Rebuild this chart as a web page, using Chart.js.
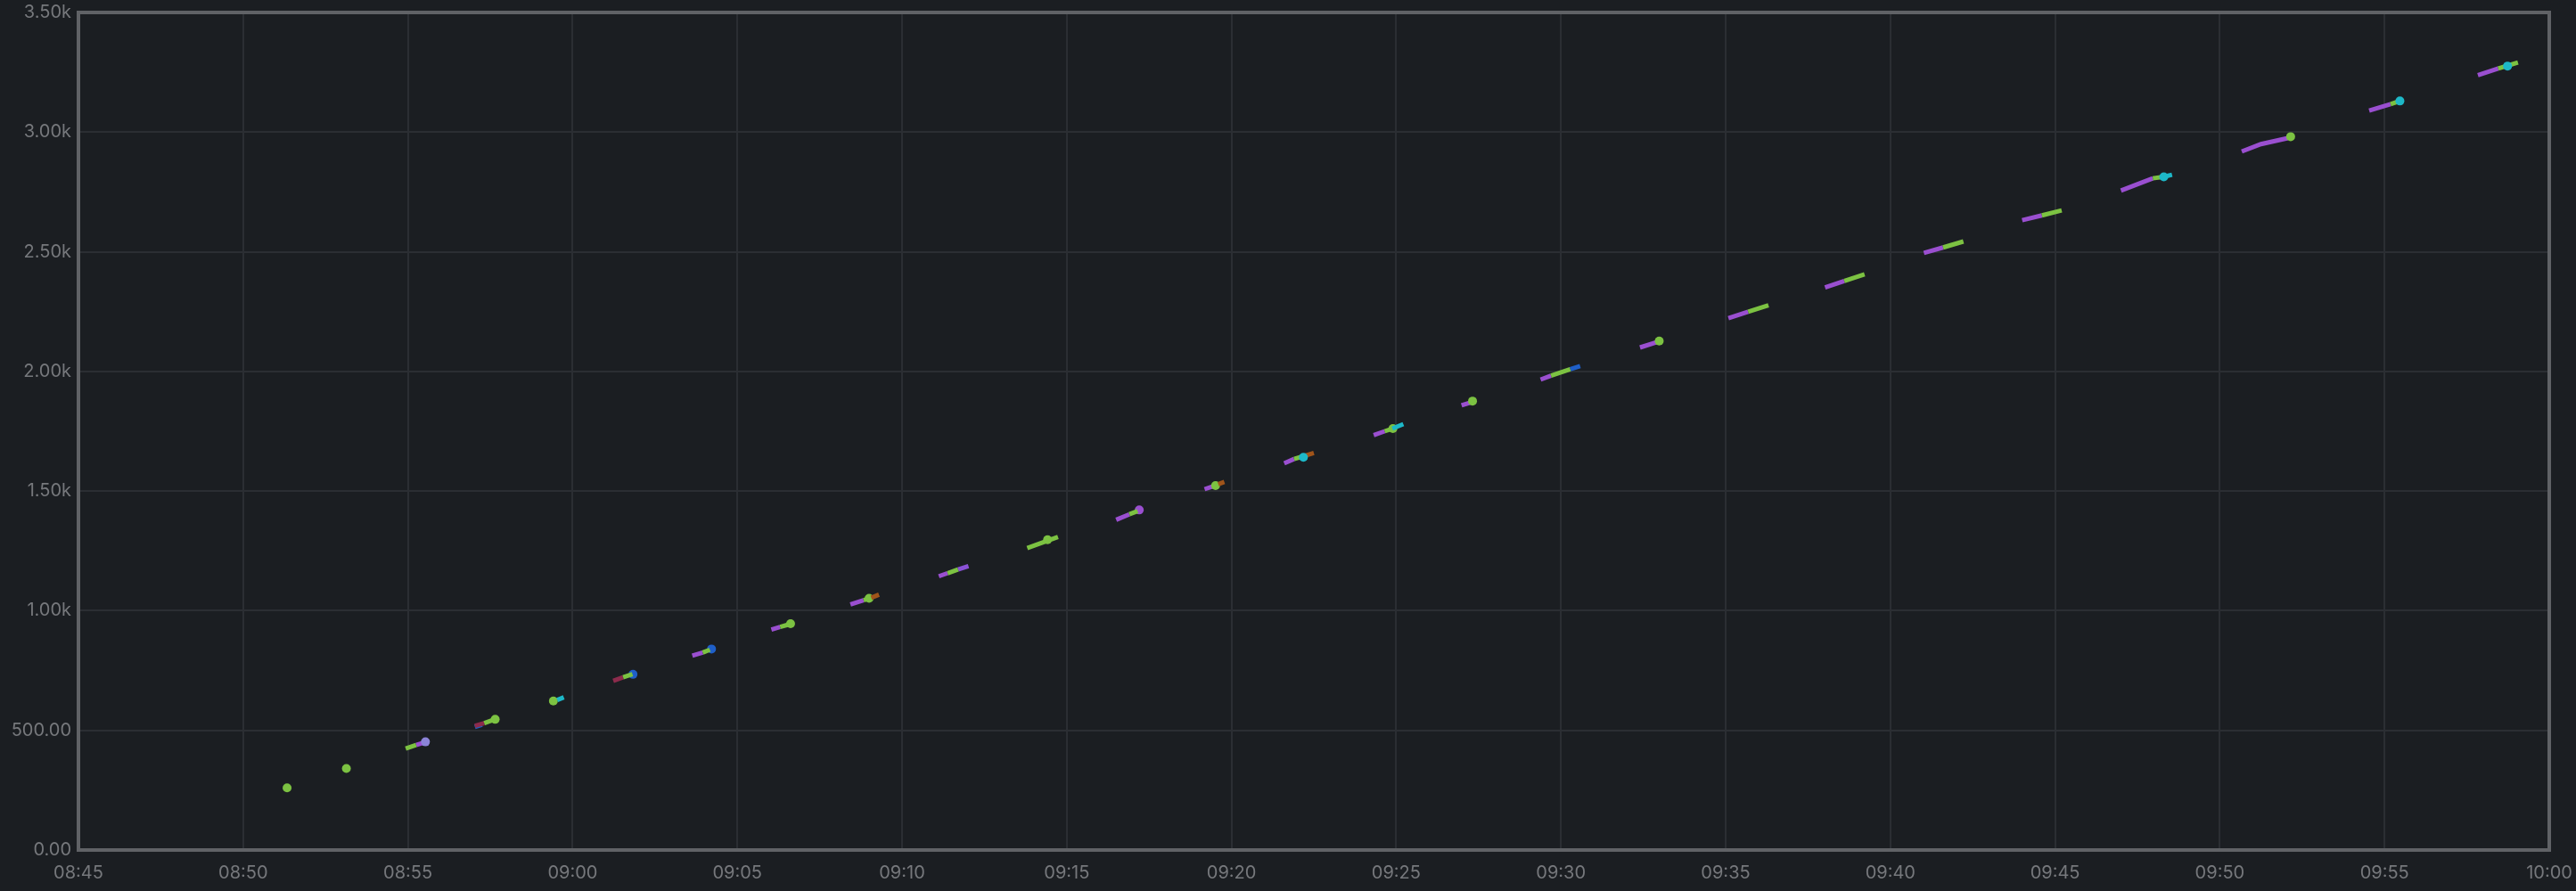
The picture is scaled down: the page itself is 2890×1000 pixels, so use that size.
<!DOCTYPE html>
<html>
<head>
<meta charset="utf-8">
<script src="https://cdn.jsdelivr.net/npm/chart.js@4.4.1/dist/chart.umd.min.js"></script>
<style>
  html, body { margin: 0; padding: 0; background: #1b1e22; overflow: hidden; }
  #wrap { width: 2890px; height: 1000px; }
</style>
</head>
<body>
<div id="wrap"><canvas id="chart" width="2890" height="1000"></canvas></div>
<script>
// tick labels
var xTickLabels = ['08:45', '08:50', '08:55', '09:00', '09:05', '09:10', '09:15', '09:20',
                   '09:25', '09:30', '09:35', '09:40', '09:45', '09:50', '09:55', '10:00'];
var yTickValues = [0, 500, 1000, 1500, 2000, 2500, 3000, 3500];
var yTickLabels = ['0.00', '500.00', '1.00k', '1.50k', '2.00k', '2.50k', '3.00k', '3.50k'];

// each series is a list of short runs: [time, value] pairs, a run of one point shows as a dot
var green = [
  [['08:51:20', 260]],
  [['08:53:08', 341]],
  [['08:54:56', 424], ['08:55:15', 439]],
  [['08:57:19', 530], ['08:57:38', 546]],
  [['08:57:39', 546]],
  [['08:59:25', 623]],
  [['09:01:32', 722], ['09:01:49', 735]],
  [['09:03:57', 825], ['09:04:10', 837]],
  [['09:06:18', 932], ['09:06:33', 942]],
  [['09:06:37', 946]],
  [['09:08:50', 1044], ['09:09:04', 1054]],
  [['09:09:00', 1052]],
  [['09:11:23', 1157], ['09:11:42', 1172]],
  [['09:13:48', 1262], ['09:14:44', 1308]],
  [['09:14:25', 1297]],
  [['09:16:54', 1403], ['09:17:09', 1416]],
  [['09:19:31', 1523]],
  [['09:21:54', 1634], ['09:22:07', 1643]],
  [['09:24:39', 1750], ['09:24:53', 1761]],
  [['09:24:54', 1761]],
  [['09:27:19', 1876]],
  [['09:29:42', 1982], ['09:30:17', 2009]],
  [['09:32:59', 2127]],
  [['09:35:41', 2249], ['09:36:18', 2276]],
  [['09:38:36', 2378], ['09:39:13', 2406]],
  [['09:41:36', 2518], ['09:42:13', 2543]],
  [['09:44:36', 2652], ['09:45:12', 2673]],
  [['09:47:58', 2807], ['09:48:17', 2813]],
  [['09:52:09', 2981]],
  [['09:55:11', 3117], ['09:55:24', 3127]],
  [['09:58:27', 3266], ['09:59:03', 3291]]
];

var purple = [
  [['08:55:15', 439], ['08:55:31', 450]],
  [['09:03:38', 812], ['09:03:57', 825]],
  [['09:06:02', 921], ['09:06:18', 932]],
  [['09:08:26', 1026], ['09:08:50', 1044]],
  [['09:11:07', 1144], ['09:11:23', 1157]],
  [['09:16:30', 1380], ['09:16:54', 1403]],
  [['09:17:12', 1421]],
  [['09:19:11', 1508], ['09:19:25', 1519]],
  [['09:21:36', 1616], ['09:21:54', 1634]],
  [['09:24:19', 1734], ['09:24:39', 1750]],
  [['09:26:59', 1858], ['09:27:15', 1870]],
  [['09:29:23', 1966], ['09:29:42', 1982]],
  [['09:32:24', 2100], ['09:32:54', 2122]],
  [['09:35:05', 2222], ['09:35:41', 2249]],
  [['09:38:01', 2351], ['09:38:36', 2378]],
  [['09:41:01', 2495], ['09:41:36', 2518]],
  [['09:44:00', 2632], ['09:44:36', 2652]],
  [['09:47:00', 2756], ['09:47:58', 2807]],
  [['09:50:40', 2919], ['09:51:15', 2950], ['09:52:04', 2975]],
  [['09:54:32', 3090], ['09:55:11', 3117]],
  [['09:57:50', 3238], ['09:58:27', 3266]]
];

var cyan = [
  [['08:59:32', 627], ['08:59:44', 638]],
  [['09:22:11', 1641]],
  [['09:24:53', 1761], ['09:25:13', 1780]],
  [['09:48:18', 2813]],
  [['09:48:17', 2813], ['09:48:33', 2822]],
  [['09:55:28', 3130]],
  [['09:58:44', 3276]]
];

var blue = [
  [['08:57:02', 514], ['08:57:15', 524]],
  [['09:01:50', 734]],
  [['09:04:13', 840]],
  [['09:30:17', 2009], ['09:30:35', 2022]]
];

var maroon = [
  [['08:57:02', 519], ['08:57:19', 530]],
  [['09:01:14', 707], ['09:01:32', 722]]
];

var orange = [
  [['09:09:04', 1054], ['09:09:18', 1067]],
  [['09:19:36', 1529], ['09:19:47', 1538]],
  [['09:22:13', 1647], ['09:22:30', 1659]]
];

var lavender = [
  [['08:55:32', 452]]
];

var violet = [
  [['09:11:42', 1172], ['09:12:01', 1186]]
];

function toMin(s) {
  var p = s.split(':');
  return (+p[0]) * 60 + (+p[1]) + (p[2] ? (+p[2]) / 60 : 0);
}

// runs joined with a null point between them so the line breaks
function flatten(runs) {
  var out = [];
  runs.forEach(function(run, i) {
    if (i > 0) out.push({ x: toMin(run[0][0]), y: null });
    run.forEach(function(p) { out.push({ x: toMin(p[0]), y: p[1] }); });
  });
  return out;
}

function dotRadius(ctx) {
  var d = ctx.dataset.data, i = ctx.dataIndex;
  var prev = d[i - 1], next = d[i + 1];
  var lone = (!prev || prev.y === null) && (!next || next.y === null);
  return lone ? 5 : 0;
}

function series(runs, color) {
  return {
    data: flatten(runs),
    borderColor: color,
    backgroundColor: color,
    borderWidth: 5,
    pointRadius: dotRadius,
    pointBorderWidth: 0,
    pointHoverRadius: 0,
    spanGaps: false,
    tension: 0
  };
}

var framePlugin = {
  id: 'frame',
  afterDraw: function(chart) {
    var a = chart.chartArea, c = chart.ctx;
    c.save();
    c.strokeStyle = '#606266';
    c.lineWidth = 4;
    c.strokeRect(a.left, a.top, a.right - a.left, a.bottom - a.top);
    c.restore();
  }
};

var tickFont = { family: 'Inter', size: 20 };
var tickColor = '#76787c';
var gridColor = '#2b2e33';

var ctx = document.getElementById('chart');
var chart = new Chart(ctx, {
  type: 'line',
  data: {
    datasets: [
      series(lavender, '#8c84d8'),
      series(cyan, '#1db8c8'),
      series(orange, '#a0541a'),
      series(green, '#7cc242'),
      series(violet, '#8a52d6'),
      series(maroon, '#8c2b4c'),
      series(blue, '#1f5fc8'),
      series(purple, '#9a4fd0')
    ]
  },
  options: {
    responsive: false,
    animation: false,
    events: [],
    layout: { padding: { top: 14, right: 30, left: 0, bottom: 0 } },
    plugins: {
      legend: { display: false },
      tooltip: { enabled: false }
    },
    scales: {
      x: {
        type: 'linear',
        min: toMin('08:45'),
        max: toMin('10:00'),
        afterBuildTicks: function(s) {
          s.ticks = xTickLabels.map(function(l) { return { value: toMin(l) }; });
        },
        ticks: {
          callback: function(v, i) { return xTickLabels[i]; },
          color: tickColor,
          font: tickFont,
          padding: 14,
          maxRotation: 0,
          autoSkip: false
        },
        grid: { color: gridColor, lineWidth: 2, drawTicks: false },
        border: { display: false },
        afterFit: function(s) {
          s.height = 46;
          s.paddingLeft = 0;
          s.paddingRight = 0;
        }
      },
      y: {
        type: 'linear',
        min: 0,
        max: 3500,
        afterBuildTicks: function(s) {
          s.ticks = yTickValues.map(function(v) { return { value: v }; });
        },
        ticks: {
          callback: function(v, i) { return yTickLabels[i]; },
          color: tickColor,
          font: tickFont,
          padding: 8,
          autoSkip: false
        },
        grid: { color: gridColor, lineWidth: 2, drawTicks: false },
        border: { display: false },
        afterFit: function(s) {
          s.width = 88;
          s.paddingTop = 0;
          s.paddingBottom = 0;
        }
      }
    }
  },
  plugins: [framePlugin]
});
</script>
</body>
</html>
